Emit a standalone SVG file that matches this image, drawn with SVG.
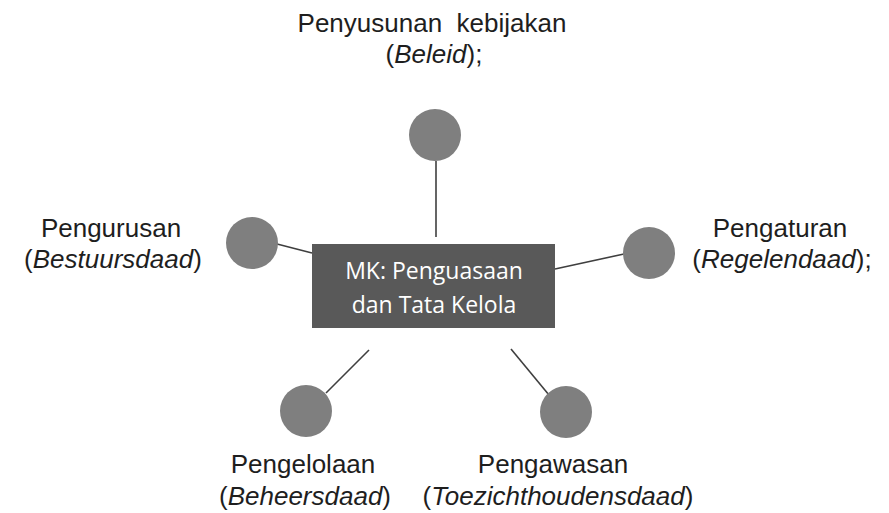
<svg xmlns="http://www.w3.org/2000/svg" width="889" height="513" viewBox="0 0 889 513">
<style>
.lbl{font-family:"Liberation Sans",Arial,sans-serif;font-size:26px;fill:#1e1e1e;text-anchor:middle}
.it{font-style:italic}
.dot{fill:#7f7f7f}
.conn line{stroke:#3f3f3f;stroke-width:1.6}
.ctr{font-family:"Open Sans","Noto Sans",sans-serif;font-size:23px;fill:#ffffff;text-anchor:middle}
</style>
<rect width="889" height="513" fill="#ffffff"/>
<g id="connectors" class="conn">
<line x1="436" y1="161" x2="436" y2="237"/>
<line x1="277" y1="244" x2="312" y2="253"/>
<line x1="555" y1="269" x2="624" y2="254"/>
<line x1="369" y1="350" x2="326" y2="393"/>
<line x1="511" y1="349" x2="549" y2="395"/>
</g>
<g id="center">
<rect x="312" y="244" width="243" height="84" fill="#595959"/>
<text class="ctr" x="434" y="279">MK: Penguasaan</text>
<text class="ctr" x="434" y="313">dan Tata Kelola</text>
</g>
<g id="node-beleid">
<circle class="dot" cx="435" cy="135" r="26"/>
<text class="lbl" x="432" y="32" xml:space="preserve">Penyusunan  kebijakan</text>
<text class="lbl" x="434" y="63">(<tspan class="it">Beleid</tspan>);</text>
</g>
<g id="node-bestuursdaad">
<circle class="dot" cx="252" cy="243" r="26"/>
<text class="lbl" x="111" y="237">Pengurusan</text>
<text class="lbl" x="113" y="268">(<tspan class="it">Bestuursdaad</tspan>)</text>
</g>
<g id="node-regelendaad">
<circle class="dot" cx="649" cy="253" r="26"/>
<text class="lbl" x="780" y="237">Pengaturan</text>
<text class="lbl" x="782" y="268">(<tspan class="it">Regelendaad</tspan>);</text>
</g>
<g id="node-beheersdaad">
<circle class="dot" cx="306" cy="411" r="26"/>
<text class="lbl" x="303" y="473">Pengelolaan</text>
<text class="lbl" x="305" y="505">(<tspan class="it">Beheersdaad</tspan>)</text>
</g>
<g id="node-toezichthoudensdaad">
<circle class="dot" cx="566" cy="412" r="26"/>
<text class="lbl" x="553" y="473">Pengawasan</text>
<text class="lbl" x="558" y="505">(<tspan class="it">Toezichthoudensdaad</tspan>)</text>
</g>
</svg>
